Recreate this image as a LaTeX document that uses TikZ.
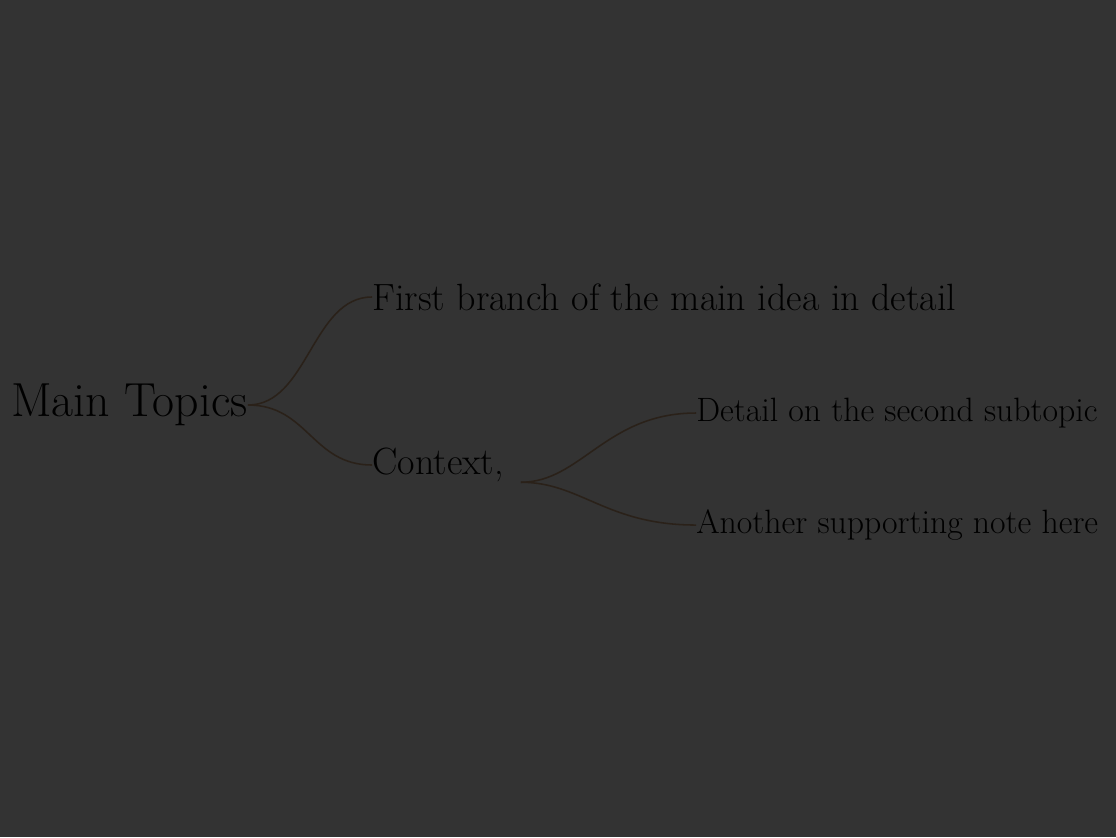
\documentclass[tikz,border=0pt]{standalone}
\usepackage{xcolor}
\usepackage{tikz}
\usetikzlibrary{positioning}

\definecolor{canvas}{HTML}{333333}
\definecolor{branch}{HTML}{2A2119}

\begin{document}
\begin{tikzpicture}[
  x=0.025cm, y=-0.025cm,
  rootnode/.style={inner sep=0pt, text=black, font=\fontsize{34}{38}\selectfont},
  topic/.style={inner sep=0pt, text=black, font=\fontsize{27}{31}\selectfont},
  leaf/.style={inner sep=0pt, text=black, font=\fontsize{24}{28}\selectfont},
  link/.style={draw=branch, line width=1.1pt}]
\fill[canvas] (0,0) rectangle (1116,837);
\useasboundingbox (0,0) rectangle (1116,837);
\node[rootnode, anchor=east] (root) at (248,405) {Main Topics};
\node[topic, above right=2.7cm and 3.1cm of root.east, anchor=west] (first) {First branch of the main idea in detail};
\node[topic, below right=1.5cm and 3.1cm of root.east, anchor=west] (second) {Context,};
\node[leaf, above right=1.3cm and 4.8cm of second.east, anchor=west] (detA) {Detail on the second subtopic};
\node[leaf, below right=1.5cm and 4.8cm of second.east, anchor=west] (detB) {Another supporting note here};
\draw[link] (root.east) .. controls +(60,0) and +(-60,0) .. (first.west);
\draw[link] (root.east) .. controls +(60,0) and +(-60,0) .. (second.west);
\draw[link] ([xshift=12pt]second.south east) .. controls +(60,0) and +(-90,0) .. (detA.west);
\draw[link] ([xshift=12pt]second.south east) .. controls +(60,0) and +(-90,0) .. (detB.west);
\end{tikzpicture}
\end{document}
